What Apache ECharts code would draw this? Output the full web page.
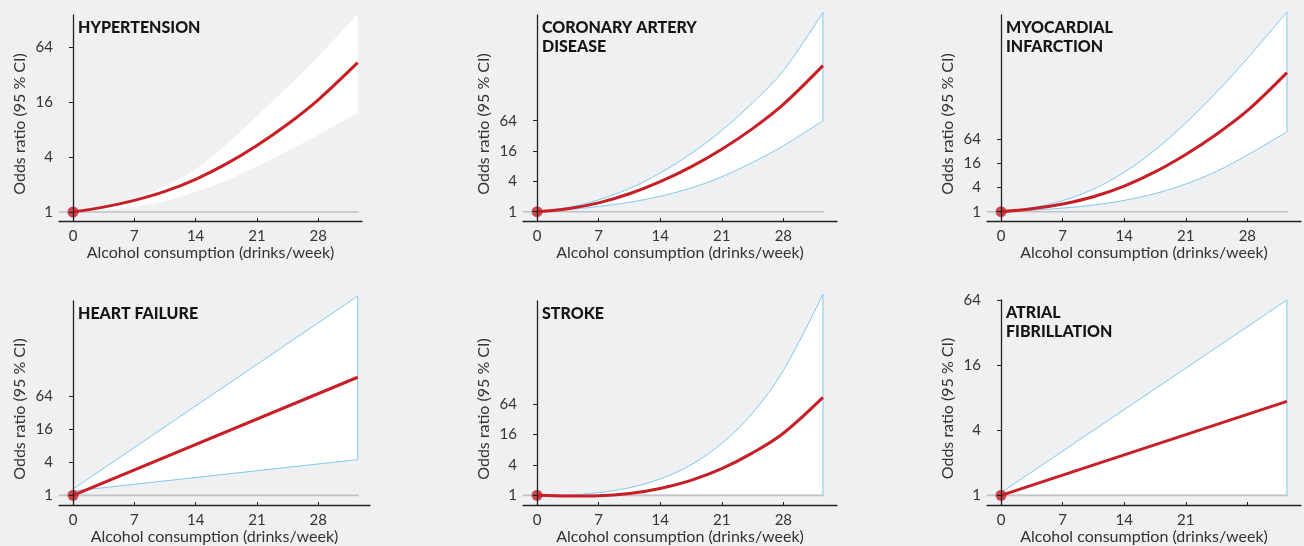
<!DOCTYPE html>
<html>
<head>
<meta charset="utf-8">
<script src="https://cdn.jsdelivr.net/npm/echarts@6/dist/echarts.min.js"></script>
<style>
  html, body { margin: 0; padding: 0; background: #eef0f2; }
  #chart { width: 1304px; height: 546px; }
</style>
</head>
<body>
<div id="chart"></div>
<script>
// drinks/week sampled along the curves, and the end point for the straight ones
const drinks = [0, 3.5, 7, 10.5, 14, 17.5, 21, 24.5, 28, 32.5];
const drinksLinear = [0, 32.5];

const xLabels = [0, 7, 14, 21, 28];
const xLabelsAf = [0, 7, 14, 21];
const xTicks = [7, 14, 21, 28];
const yTicks = [1, 4, 16, 64];

// odds ratios
const htnOR = [1, 1.13, 1.34, 1.68, 2.28, 3.36, 5.35, 9.13, 16.9, 43.1];
const htnUpper = [1, 1.15, 1.41, 1.93, 2.93, 5.46, 11.2, 23.4, 50.2, 147];
const htnLower = [1, 1.06, 1.14, 1.32, 1.65, 2.22, 3.14, 4.66, 6.96, 12.3];

const cadOR = [1, 1.15, 1.5, 2.27, 3.95, 7.78, 17.4, 44.6, 135, 792];
const cadUpper = [1, 1.21, 1.72, 2.89, 5.86, 14.2, 40.8, 145, 630, 9030];
const cadLower = [1, 1.1, 1.27, 1.54, 2.03, 2.95, 4.93, 9.51, 20.4, 64];

const miOR = [1, 1.18, 1.56, 2.36, 4.35, 9.85, 26.9, 86.2, 333, 2980];
const miUpper = [1, 1.25, 1.89, 3.66, 9.65, 34.8, 165, 969, 6750, 97300];
const miLower = [1, 1.09, 1.23, 1.47, 1.92, 2.83, 4.93, 10.2, 26, 99.7];

const hfOR = [1, 144];
const hfUpper = [1.3, 4390];
const hfLower = [1.2, 4.5];

const strokeOR = [1, 0.966, 0.979, 1.09, 1.37, 1.97, 3.36, 6.9, 16.9, 86.2];
const strokeUpper = [1, 1.02, 1.13, 1.41, 2.11, 4, 10.6, 42.2, 294, 9410];
const strokeLower = [1, 1, 1, 1, 1, 1, 1, 1, 1, 1];

const afOR = [1, 7.4];
const afUpper = [1.06, 64];
const afLower = [1, 1];

const BG = '#eef0f2';
const RED = '#c81e26';
const BLUE = '#82c8ea';
const FONT = 'Lato, "Noto Sans", sans-serif';
const SMOOTH = 0.35;

const panels = [
    {title: 'HYPERTENSION', x: drinks, or: htnOR, upper: htnUpper, lower: htnLower, border: false,
        grid: {left: 59, top: 15, width: 303, height: 206}, xMax: 33, yMin: 0.797, yMax: 143, labels: xLabels},
    {title: 'CORONARY ARTERY\nDISEASE', x: drinks, or: cadOR, upper: cadUpper, lower: cadLower, border: true,
        grid: {left: 523, top: 15, width: 314, height: 206}, xMax: 34.1, yMin: 0.654, yMax: 8023, labels: xLabels},
    {title: 'MYOCARDIAL\nINFARCTION', x: drinks, or: miOR, upper: miUpper, lower: miLower, border: true,
        grid: {left: 987, top: 15, width: 314, height: 206}, xMax: 34.1, yMin: 0.586, yMax: 81900, labels: xLabels},
    {title: 'HEART FAILURE', x: drinksLinear, or: hfOR, upper: hfUpper, lower: hfLower, border: true,
        grid: {left: 59, top: 301, width: 311, height: 205}, xMax: 33.9, yMin: 0.666, yMax: 3566, labels: xLabels},
    {title: 'STROKE', x: drinks, or: strokeOR, upper: strokeUpper, lower: strokeLower, border: true,
        grid: {left: 523, top: 301, width: 314, height: 205}, xMax: 34.1, yMin: 0.644, yMax: 6950, labels: xLabels},
    {title: 'ATRIAL\nFIBRILLATION', x: drinksLinear, or: afOR, upper: afUpper, lower: afLower, border: true,
        grid: {left: 987, top: 300, width: 314, height: 206}, xMax: 34.1, yMin: 0.814, yMax: 64, labels: xLabelsAf},
];

const X_MIN = -1.6;

function zip(xs, ys) {
    return xs.map((x, i) => [x, ys[i]]);
}

const chart = echarts.init(document.getElementById('chart'));
const option = {
    backgroundColor: BG,
    animation: false,
    textStyle: {fontFamily: FONT},
    title: [], grid: [], xAxis: [], yAxis: [], series: []
};

panels.forEach((p, i) => {
    const last = p.x.length - 1;
    const xEnd = p.x[last];

    option.grid.push(p.grid);
    option.title.push({
        text: p.title,
        left: p.grid.left + 19,
        top: p.grid.top + 3,
        padding: 0,
        textStyle: {fontSize: 16, fontWeight: 900, color: '#151515', lineHeight: 19, fontFamily: FONT}
    });
    option.xAxis.push({
        type: 'value', gridIndex: i, min: X_MIN, max: p.xMax, z: 10,
        name: 'Alcohol consumption (drinks/week)', nameLocation: 'middle', nameGap: 24,
        nameTextStyle: {fontSize: 16, color: '#333'},
        splitLine: {show: false},
        axisLine: {lineStyle: {color: '#222', width: 1.3}},
        axisTick: {inside: true, length: 3, customValues: xTicks, lineStyle: {color: '#222'}},
        axisLabel: {customValues: p.labels, fontSize: 15, color: '#333', margin: 8}
    });
    option.yAxis.push({
        type: 'log', logBase: 2, gridIndex: i, min: p.yMin, max: p.yMax, z: 10,
        name: 'Odds ratio (95 % CI)', nameLocation: 'middle', nameGap: 31,
        nameTextStyle: {fontSize: 16, color: '#333', padding: [0, 12, 0, 0]},
        splitLine: {show: false},
        axisLine: {show: true, lineStyle: {color: '#222', width: 1.3}},
        axisTick: {show: true, length: 4, customValues: yTicks, lineStyle: {color: '#222'}},
        axisLabel: {customValues: yTicks, fontSize: 15, color: '#333', margin: 6}
    });

    const common = {xAxisIndex: i, yAxisIndex: i, symbol: 'none', silent: true, clip: false};
    option.series.push(
        Object.assign({}, common, {
            type: 'line', data: zip(p.x, p.upper), smooth: SMOOTH, z: 1,
            lineStyle: {color: BLUE, width: p.border ? 1 : 0},
            areaStyle: {color: '#ffffff', opacity: 1, origin: 'start'}
        }),
        Object.assign({}, common, {
            type: 'line', data: zip(p.x, p.lower), smooth: SMOOTH, z: 2,
            lineStyle: {color: BLUE, width: p.border ? 1 : 0},
            areaStyle: {color: BG, opacity: 1, origin: 'start'}
        })
    );
    if (p.border) {
        option.series.push(Object.assign({}, common, {
            type: 'line', z: 3,
            data: [[xEnd, p.lower[last]], [xEnd, p.upper[last]]],
            lineStyle: {color: BLUE, width: 1}
        }));
    }
    option.series.push(
        Object.assign({}, common, {
            type: 'line', z: 3, clip: true,
            data: [[X_MIN, 1], [xEnd + 0.1, 1]],
            lineStyle: {color: '#c2c2c2', width: 1.6}
        }),
        Object.assign({}, common, {
            type: 'line', data: zip(p.x, p.or), smooth: SMOOTH, z: 4,
            lineStyle: {color: RED, width: 3}
        }),
        {
            type: 'scatter', xAxisIndex: i, yAxisIndex: i, silent: true, z: 5,
            data: [[p.x[0], p.or[0]]], symbolSize: 11, itemStyle: {color: RED}
        }
    );
});

chart.setOption(option);
</script>
</body>
</html>
